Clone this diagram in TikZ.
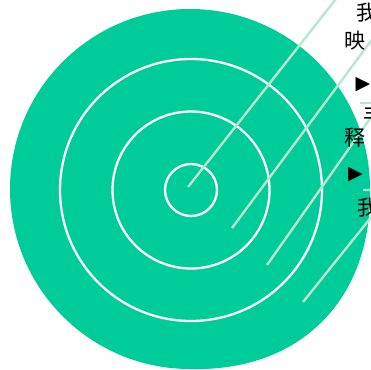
\documentclass[tikz,border=0pt]{standalone}
\usepackage{fontspec}
\newfontfamily\cjk{Noto Sans CJK SC}
\newfontfamily\dvs{DejaVu Sans}
\definecolor{disc}{HTML}{00CC99}
\definecolor{pale}{HTML}{B8E6CF}
\begin{document}
\begin{tikzpicture}[x=1pt,y=-1pt,
  ring/.style={draw=white,line width=2.3pt},
  leader/.style={draw=pale,line width=2.4pt},
  cjktext/.style={inner sep=0pt,anchor=base west,font=\cjk\fontsize{21pt}{21pt}\selectfont,text=black},
  arrowmark/.style={inner sep=0pt,anchor=center,font=\dvs\fontsize{19pt}{19pt}\selectfont,text=black}]
\useasboundingbox (0,0) rectangle (371,369);
\clip (0,0) rectangle (371,369);
% disc
\fill[disc] (370,189) arc[start angle=0,end angle=-270,radius=180]
  .. controls (300,372) and (372,300) .. (370,189) -- cycle;
% rings
\coordinate (c) at (191,190);
\draw[ring] (c) circle[radius=26];
\draw[ring] (c) circle[radius=78.5];
\draw[ring] (c) circle[radius=131];
% leader lines
\coordinate (l1s) at (188,187);
\coordinate (l1e) at (343,-10);
\coordinate (l2s) at (232,228);
\coordinate (l2e) at (385,22);
\coordinate (l3s) at (267,265);
\coordinate (l3k) at (381,103);
\coordinate (u1) at (360,103);
\coordinate (l4s) at (303,302);
\coordinate (l4k) at (393,190);
\coordinate (u2) at (363,190);
\draw[leader] (l1s) -- (l1e);
\draw[leader] (l2s) -- (l2e);
\draw[leader] (l3s) -- (l3k) -- (u1);
\draw[leader] (l4s) -- (l4k) -- (u2);
% texts
\node[cjktext] (t1) at (356,20.5) {我};
\node[cjktext] (t2) at (344,48.5) {映};
\node[arrowmark] (a1) at (363,84.5) {▶};
\node[cjktext] (t3) at (363,122) {丰};
\node[cjktext] (t4) at (344,145.5) {释};
\node[arrowmark] (a2) at (355.5,174.5) {▶};
\node[cjktext] (t5) at (357,215.5) {我};
\end{tikzpicture}
\end{document}
